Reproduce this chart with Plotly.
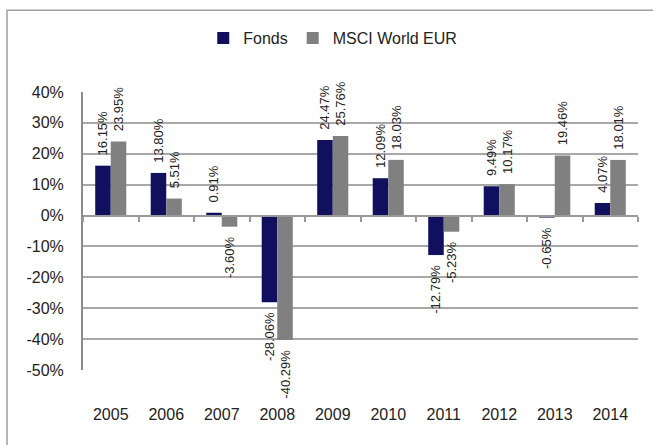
import plotly.graph_objects as go

years = ["2005", "2006", "2007", "2008", "2009", "2010", "2011", "2012", "2013", "2014"]
fonds = [16.15, 13.80, 0.91, -28.06, 24.47, 12.09, -12.79, 9.49, -0.65, 4.07]
msci = [23.95, 5.51, -3.60, -40.29, 25.76, 18.03, -5.23, 10.17, 19.46, 18.01]
tick_vals = [40, 30, 20, 10, 0, -10, -20, -30, -40, -50]
tick_text = ["40%", "30%", "20%", "10%", "0%", "-10%", "-20%", "-30%", "-40%", "-50%"]

NAVY = "#10105E"
GRAY = "#808080"
FONT = "Liberation Sans"
PAD = "\u00a0\u00a0"


def labels(values):
    # rotated text reads bottom-to-top; pad the end nearest the bar
    return [PAD + f"{v:.2f}%" if v >= 0 else f"{v:.2f}%" + PAD for v in values]


fig = go.Figure()
for name, vals, col in (("Fonds", fonds, NAVY), ("MSCI World EUR", msci, GRAY)):
    fig.add_trace(go.Bar(
        name=name, x=years, y=vals, marker=dict(color=col, line=dict(width=0)),
        text=labels(vals), textposition="outside", textangle=-90, constraintext="none",
        cliponaxis=False, textfont=dict(family=FONT, size=13, color="#222222"),
        hoverinfo="skip"))

fig.update_layout(
    width=653, height=445,
    margin=dict(l=83, r=15, t=92, b=74.5),
    paper_bgcolor="white", plot_bgcolor="white",
    barmode="group", bargap=0.44, bargroupgap=0,
    font=dict(family=FONT, size=16, color="#222222"),
    legend=dict(orientation="h", x=0.45, y=1.194, xanchor="center", yanchor="middle",
                font=dict(family=FONT, size=16, color="#222222"), itemwidth=30,
                bgcolor="rgba(0,0,0,0)"),
    xaxis=dict(type="category", categoryarray=years, range=[-0.5, 9.5],
               anchor="free", position=0.5 / 0.9,
               showgrid=False, showline=True, linecolor="#999999", linewidth=2,
               ticks="outside", tickson="boundaries", ticklen=5, tickwidth=1.5,
               tickcolor="#999999", ticklabelstandoff=184,
               tickfont=dict(family=FONT, size=16, color="#222222")),
    yaxis=dict(range=[-50, 40], tickvals=tick_vals, ticktext=tick_text,
               showgrid=True, gridcolor="#A8A8A8", gridwidth=1.5,
               zeroline=False, showline=True, linecolor="#8C8C8C", linewidth=2,
               ticks="", ticklabelstandoff=14,
               tickfont=dict(family=FONT, size=16, color="#222222")),
    shapes=[dict(type="rect", xref="paper", yref="paper",
                 x0=(7 - 83) / 555, x1=1.1, y0=-0.5, y1=(370.5 - 10) / 278.5,
                 line=dict(color="#A0A0A0", width=1.5), fillcolor="rgba(0,0,0,0)", layer="below")],
)

fig.write_html("out.html", config={"displayModeBar": False},
               post_script="document.body.style.margin='0';")
